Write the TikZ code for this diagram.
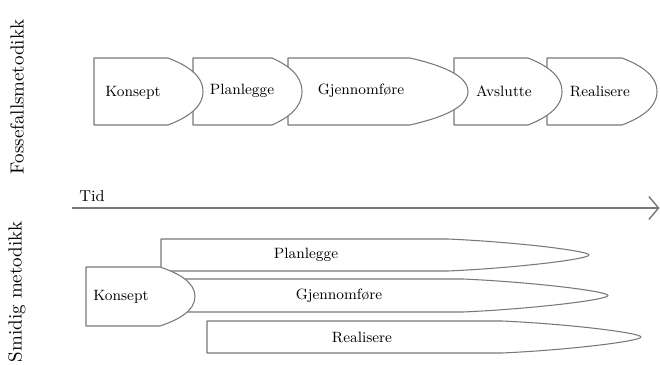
\documentclass[tikz,border=0pt]{standalone}
\usepackage{tikz}
\usetikzlibrary{arrows.meta}

\definecolor{edgegray}{RGB}{120,120,120}

\tikzset{
    phase/.style={draw=edgegray, fill=white, line width=0.6pt, line join=round},
    phaselabel/.style={font=\fontsize{8.5}{10}\selectfont, inner sep=0pt},
    sidelabel/.style={font=\fontsize{10.8}{13}\selectfont, rotate=90, inner sep=0pt},
    timeline/.style={draw=edgegray, line width=0.8pt, -{Straight Barb[length=5.5pt,width=13pt]}}
}

% phase shape: left, corner, tip, top, bottom, tip roundness
\newcommand{\phaseshape}[6]{%
    \pgfmathsetmacro{\phmid}{(#4+#5)/2}%
    \pgfmathsetmacro{\phhalf}{(#5-#4)/2}%
    \pgfmathsetmacro{\phx}{#2+0.5*(#3-#2)}%
    \filldraw[phase] (#1,#4) -- (#2,#4)
        .. controls (\phx,#4+0.2*\phhalf) and (#3,\phmid-#6*\phhalf) .. (#3,\phmid)
        .. controls (#3,\phmid+#6*\phhalf) and (\phx,#5-0.2*\phhalf) .. (#2,#5)
        -- (#1,#5) -- cycle;}

\begin{document}
\begin{tikzpicture}[x=0.02cm, y=-0.02cm]
    \useasboundingbox (0,0) rectangle (660,365);

    % Side labels
    \node[sidelabel] (fosse) at (17,97) {Fossefallsmetodikk};
    \node[sidelabel, anchor=east] (smidig) at (17,221) {Smidig metodikk};

    % Waterfall phases (right to left, so each tip lies on top)
    \phaseshape{547}{622}{657}{58}{125}{0.5}
    \phaseshape{454}{528}{562}{58}{125}{0.5}
    \phaseshape{288}{410}{468}{58}{125}{0.5}
    \phaseshape{193}{272}{302}{58}{125}{0.5}
    \phaseshape{94}{168}{203}{58}{125}{0.5}

    \node[phaselabel] (wkonsept) at (133,93) {Konsept};
    \node[phaselabel] (wplan) at (242,91) {Planlegge};
    \node[phaselabel] (wgjen) at (361,91) {Gjennomføre};
    \node[phaselabel] (wavsl) at (504,91) {Avslutte};
    \node[phaselabel] (wreal) at (600,91) {Realisere};

    % Time axis
    \coordinate (tidstart) at (72,208);
    \coordinate (tidend) at (659.5,208);
    \draw[timeline] (tidstart) -- (tidend);
    \node[font=\fontsize{9}{11}\selectfont, inner sep=0pt] (tid) at (92,196) {Tid};

    % Agile phases
    \phaseshape{161}{448}{589}{239}{271}{0.25}
    \phaseshape{185}{463}{608}{279}{312}{0.25}
    \phaseshape{207}{502}{641}{321}{353}{0.25}
    \phaseshape{86}{160}{195}{267}{326}{0.5}

    \node[phaselabel] (aplan) at (306,255) {Planlegge};
    \node[phaselabel] (agjen) at (339,296) {Gjennomføre};
    \node[phaselabel] (areal) at (362,337) {Realisere};
    \node[phaselabel] (akonsept) at (121,297) {Konsept};
\end{tikzpicture}
\end{document}
